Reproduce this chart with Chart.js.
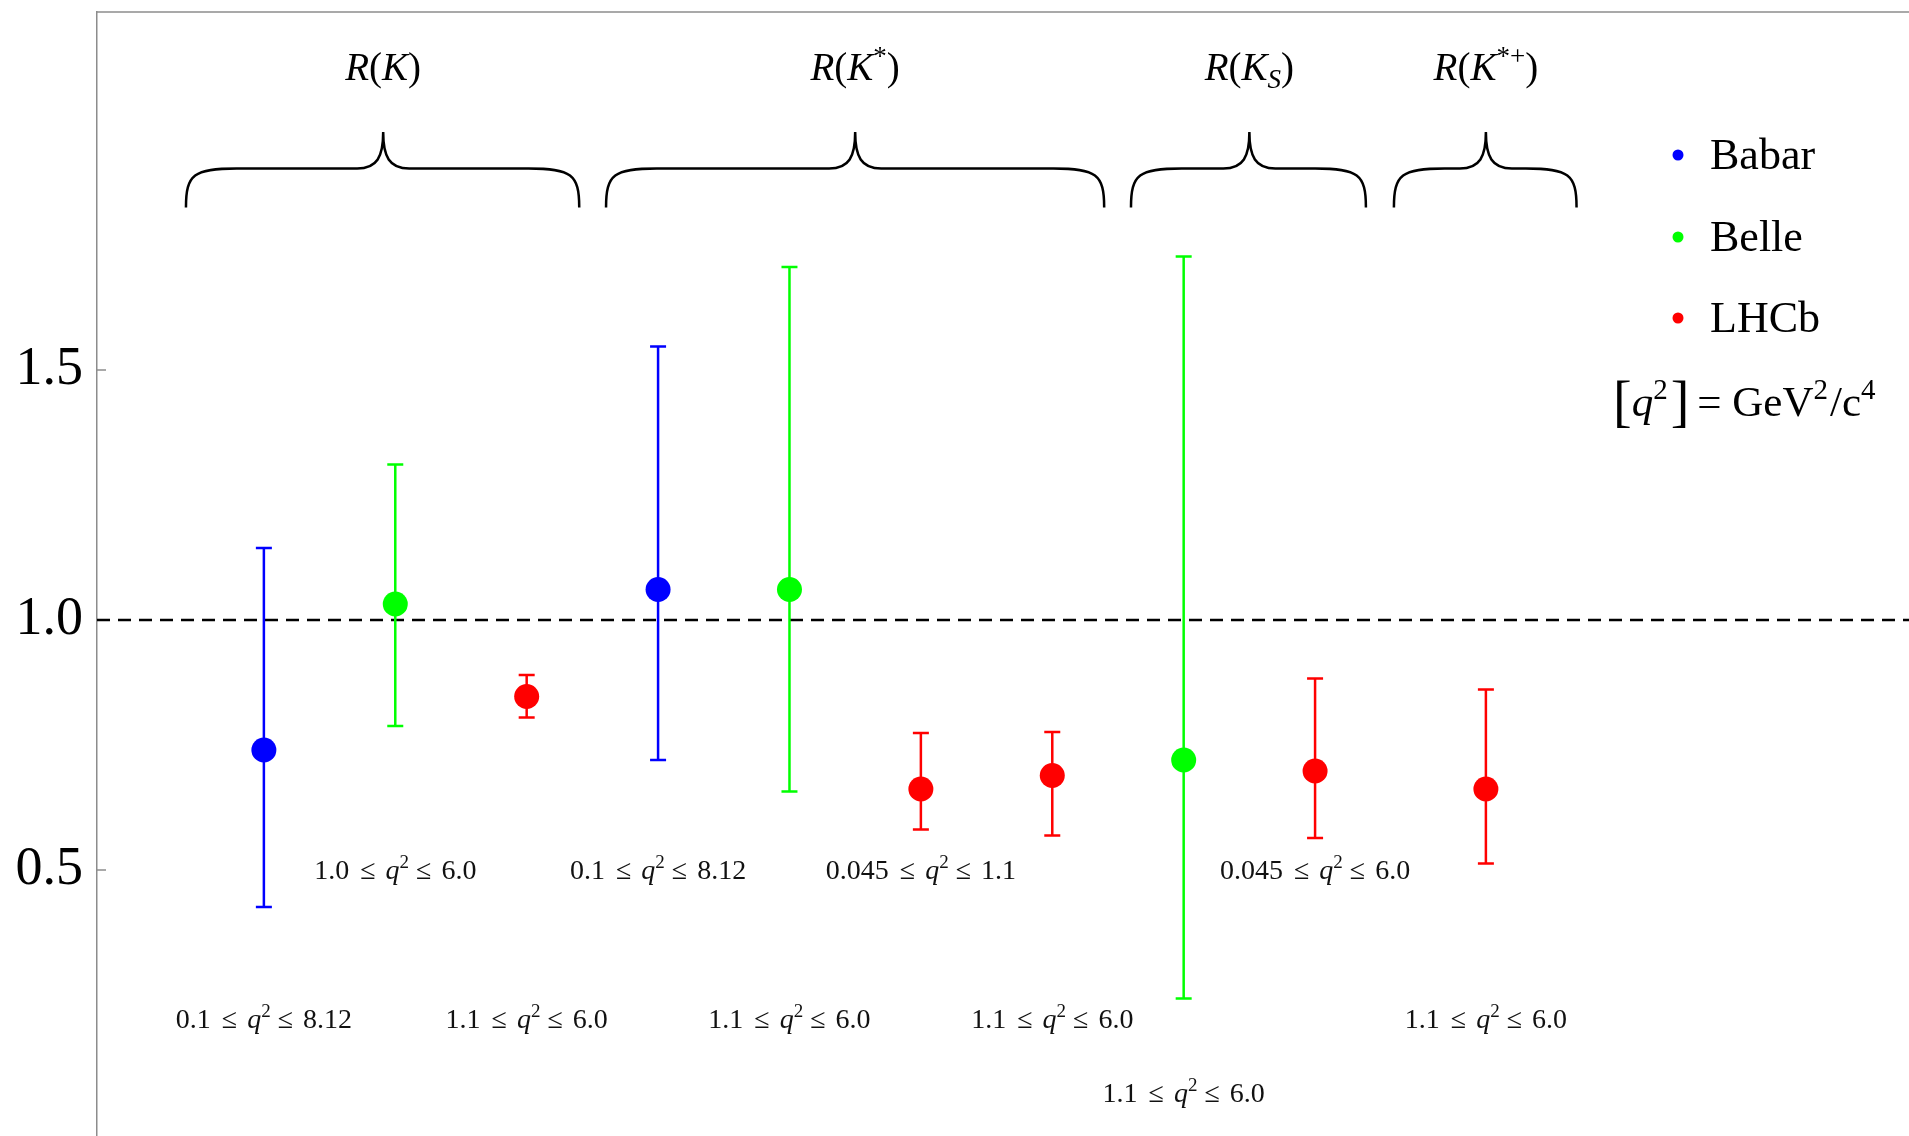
<!DOCTYPE html>
<html>
<head>
<meta charset="utf-8">
<script src="https://cdn.jsdelivr.net/npm/chart.js@4.4.1/dist/chart.umd.min.js"></script>
<style>
  html, body { margin: 0; padding: 0; background: #fff; overflow: hidden; }
  #wrap { width: 1909px; height: 1136px; position: relative; }
  canvas { display: block; }
</style>
</head>
<body>
<div id="wrap"><canvas id="chart"></canvas></div>
<script>
// measurements, one entry per point (x = slot on the hidden x axis)
const xPos = [1, 2, 3, 4, 5, 6, 7, 8, 9, 10.3];
const experiment = ['Babar', 'Belle', 'LHCb', 'Babar', 'Belle', 'LHCb', 'LHCb', 'Belle', 'LHCb', 'LHCb'];
const central = [0.74, 1.032, 0.847, 1.061, 1.061, 0.662, 0.689, 0.72, 0.698, 0.662];
const upper = [1.144, 1.311, 0.890, 1.547, 1.706, 0.774, 0.776, 1.727, 0.883, 0.861];
const lower = [0.426, 0.788, 0.805, 0.720, 0.657, 0.581, 0.569, 0.243, 0.564, 0.513];

// q^2 bin of each point and the height its label sits at
const qLow = ['0.1', '1.0', '1.1', '0.1', '1.1', '0.045', '1.1', '1.1', '0.045', '1.1'];
const qHigh = ['8.12', '6.0', '6.0', '8.12', '6.0', '1.1', '6.0', '6.0', '6.0', '6.0'];
const labelY = [0.202, 0.5, 0.202, 0.5, 0.202, 0.5, 0.202, 0.054, 0.5, 0.202];

// groups with braces
const groupStart = [0.407, 3.604, 7.599, 9.60];
const groupEnd = [3.40, 7.395, 9.387, 10.99];
const groupMid = [1.908, 5.50, 8.50, 10.30];
const groupSup = ['', '*', '', '*+'];
const groupSub = ['', '', 'S', ''];

const experiments = ['Babar', 'Belle', 'LHCb'];
const colors = { Babar: '#0000ff', Belle: '#00ff00', LHCb: '#ff0000' };
const yTicks = [0.5, 1.0, 1.5];
const reference = 1.0;

const FONT = '"Liberation Serif", "DejaVu Serif", serif';
const axisGray = '#8c8c8c';

// draw a run of text pieces: [text, kind, extra gap]
function drawRich(ctx, segs, x, y, size, align) {
  const fontFor = k => {
    if (k === 'i') return 'italic ' + size + 'px ' + FONT;
    if (k === 'sup' || k === 'sub') return Math.round(size * 0.68) + 'px ' + FONT;
    if (k === 'isub' || k === 'isup') return 'italic ' + Math.round(size * 0.68) + 'px ' + FONT;
    if (k === 'big') return Math.round(size * 1.3) + 'px ' + FONT;
    return size + 'px ' + FONT;
  };
  let total = 0;
  const widths = segs.map(s => {
    ctx.font = fontFor(s[1]);
    const w = ctx.measureText(s[0]).width + (s[2] || 0);
    total += w;
    return w;
  });
  let cx = align === 'center' ? x - total / 2 : x;
  const base = y + size * 0.33;
  ctx.textAlign = 'left';
  ctx.textBaseline = 'alphabetic';
  segs.forEach((s, i) => {
    ctx.font = fontFor(s[1]);
    let dy = 0;
    if (s[1] === 'sup' || s[1] === 'isup') dy = -size * 0.4;
    if (s[1] === 'sub' || s[1] === 'isub') dy = size * 0.2;
    if (s[1] === 'big') dy = size * 0.08;
    ctx.fillText(s[0], cx, base + dy);
    cx += widths[i];
  });
}

const overlay = {
  id: 'overlay',
  beforeDatasetsDraw(chart) {
    const ctx = chart.ctx;
    const xs = chart.scales.x, ys = chart.scales.y;
    const area = chart.chartArea;
    ctx.save();

    // top frame line
    ctx.strokeStyle = axisGray;
    ctx.lineWidth = 1.5;
    ctx.beginPath();
    ctx.moveTo(area.left, area.top);
    ctx.lineTo(area.right, area.top);
    ctx.stroke();

    // ticks pointing into the plot
    yTicks.forEach(v => {
      const py = ys.getPixelForValue(v);
      ctx.beginPath();
      ctx.moveTo(area.left, py);
      ctx.lineTo(area.left + 9, py);
      ctx.stroke();
    });

    // dashed reference line
    ctx.strokeStyle = '#000';
    ctx.lineWidth = 2.5;
    ctx.setLineDash([13, 8]);
    const ry = ys.getPixelForValue(reference);
    ctx.beginPath();
    ctx.moveTo(area.left, ry);
    ctx.lineTo(area.right, ry);
    ctx.stroke();
    ctx.setLineDash([]);

    // error bars
    ctx.lineWidth = 2.5;
    xPos.forEach((x, i) => {
      const px = xs.getPixelForValue(x);
      const top = ys.getPixelForValue(upper[i]);
      const bot = ys.getPixelForValue(lower[i]);
      ctx.strokeStyle = colors[experiment[i]];
      ctx.beginPath();
      ctx.moveTo(px, top); ctx.lineTo(px, bot);
      ctx.moveTo(px - 8, top); ctx.lineTo(px + 8, top);
      ctx.moveTo(px - 8, bot); ctx.lineTo(px + 8, bot);
      ctx.stroke();
    });

    // braces and group names
    ctx.strokeStyle = '#000';
    ctx.lineWidth = 2.5;
    const yEnd = ys.getPixelForValue(1.825);
    const yBar = ys.getPixelForValue(1.903);
    const yPeak = ys.getPixelForValue(1.976);
    const yName = ys.getPixelForValue(2.105);
    groupStart.forEach((g, i) => {
      const l = xs.getPixelForValue(g);
      const r = xs.getPixelForValue(groupEnd[i]);
      const m = xs.getPixelForValue(groupMid[i]);
      const rad = yEnd - yBar;
      const cw = 26;
      ctx.beginPath();
      ctx.moveTo(l, yEnd);
      ctx.bezierCurveTo(l, yBar + rad * 0.15, l + rad * 0.2, yBar, l + rad * 1.3, yBar);
      ctx.lineTo(m - cw, yBar);
      ctx.bezierCurveTo(m - 6, yBar, m, yBar - 12, m, yPeak);
      ctx.bezierCurveTo(m, yBar - 12, m + 6, yBar, m + cw, yBar);
      ctx.lineTo(r - rad * 1.3, yBar);
      ctx.bezierCurveTo(r - rad * 0.2, yBar, r, yBar + rad * 0.15, r, yEnd);
      ctx.stroke();

      ctx.fillStyle = '#000';
      const segs = [['R', 'i'], ['(', 'n'], ['K', 'i']];
      if (groupSup[i]) segs.push([groupSup[i], 'sup']);
      if (groupSub[i]) segs.push([groupSub[i], 'isub']);
      segs.push([')', 'n']);
      drawRich(ctx, segs, m, yName, 39, 'center');
    });

    // q^2 bin labels
    ctx.fillStyle = '#111';
    xPos.forEach((x, i) => {
      const px = xs.getPixelForValue(x);
      const py = ys.getPixelForValue(labelY[i]);
      drawRich(ctx, [
        [qLow[i] + ' ', 'n', 4], ['\u2264 ', 'n', 3], ['q', 'i'], ['2', 'sup', 7], ['\u2264 ', 'n', 3], [qHigh[i], 'n']
      ], px, py, 28, 'center');
    });

    // legend
    const lx = area.right - 231;
    [155, 237, 318].forEach((ly, i) => {
      ctx.fillStyle = colors[experiments[i]];
      ctx.beginPath();
      ctx.arc(lx, ly, 5.5, 0, Math.PI * 2);
      ctx.fill();
      ctx.fillStyle = '#000';
      ctx.font = '44px ' + FONT;
      ctx.textAlign = 'left';
      ctx.textBaseline = 'middle';
      ctx.fillText(experiments[i], lx + 32, ly + 2);
    });
    ctx.fillStyle = '#000';
    drawRich(ctx, [
      ['[', 'big'], ['q', 'i'], ['2', 'sup', 3], [']', 'big', 8], ['= GeV', 'n'], ['2', 'sup', 2], ['/c', 'n'], ['4', 'sup']
    ], area.right - 296, 402, 43, 'left');

    ctx.restore();
  }
};

const datasets = experiments.map(name => ({
  label: name,
  data: xPos.map((x, i) => ({ x: x, y: central[i], e: experiment[i] }))
            .filter(p => p.e === name),
  backgroundColor: colors[name],
  borderColor: colors[name],
  pointRadius: 12.5,
  pointHoverRadius: 12.5,
  borderWidth: 0,
  showLine: false
}));

new Chart(document.getElementById('chart'), {
  type: 'scatter',
  data: { datasets: datasets },
  options: {
    responsive: true,
    maintainAspectRatio: false,
    animation: false,
    layout: { autoPadding: false, padding: { top: 12, right: 0, bottom: 0, left: 0 } },
    plugins: { legend: { display: false }, tooltip: { enabled: false } },
    scales: {
      x: { type: 'linear', min: -0.27, max: 13.52, display: false },
      y: {
        type: 'linear', min: -0.032, max: 2.216,
        afterBuildTicks: axis => { axis.ticks = yTicks.map(v => ({ value: v })); },
        afterFit: axis => {
          axis.width = 97;
          axis.paddingTop = 0;
          axis.paddingBottom = 0;
        },
        grid: { display: false },
        border: { display: true, color: axisGray, width: 1.5 },
        ticks: {
          padding: 6,
          color: '#000',
          font: { family: FONT, size: 54 },
          callback: v => v.toFixed(1)
        }
      }
    }
  },
  plugins: [overlay]
});
</script>
</body>
</html>
